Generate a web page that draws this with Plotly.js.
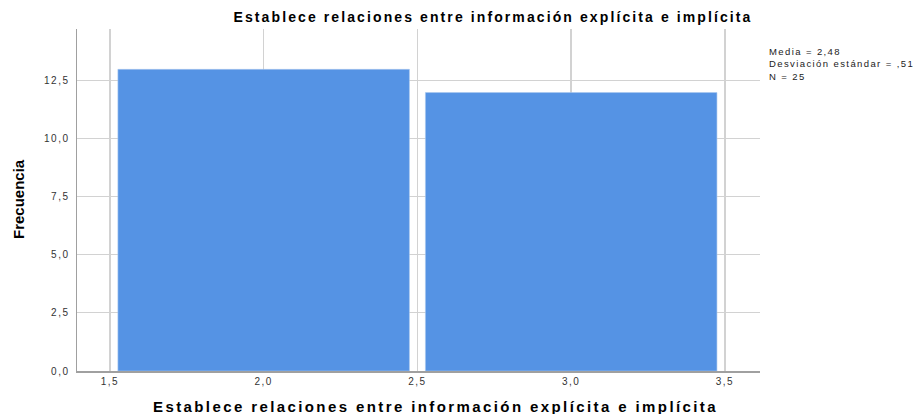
<!DOCTYPE html>
<html><head><meta charset="utf-8">
<script src="https://cdn.plot.ly/plotly-3.0.1.min.js"></script>
<style>
html,body{margin:0;padding:0;background:#fff}
.xtick text, .ytick text {letter-spacing: 1.5px;}
</style>
</head><body>
<div id="chart" style="width:920px;height:414px"></div>
<script>
const binCenters = [2, 3];
const frequencies = [13, 12];
const xTicks = [1.5, 2.0, 2.5, 3.0, 3.5];
const yTicks = [0, 2.5, 5.0, 7.5, 10.0, 12.5];
const statsLabels = ["Media = 2,48", "Desviación estándar = ,51", "N = 25"];
const chartTitle = "Establece relaciones entre información explícita e implícita";
const xTitle = "Establece relaciones entre información explícita e implícita";
const yTitle = "Frecuencia";

function spaced(t, ls) { return '<span style="letter-spacing:' + ls + 'px">' + t + '</span>'; }

const trace = {
  type: 'bar',
  x: binCenters,
  y: frequencies,
  width: 0.948,
  marker: {color: '#5593e4', line: {color: '#a9c7ef', width: 0.6}},
  hoverinfo: 'x+y'
};

const plotTop = 29, plotBottom = 371, plotH = plotBottom - plotTop;
const plotLeft = 77, plotRight = 760, plotW = plotRight - plotLeft;
function py(pix) { return (plotBottom - pix) / plotH; }
function px(pix) { return (pix - plotLeft) / plotW; }

const annotations = [];
annotations.push({
  xref: 'paper', yref: 'paper', x: px(767), y: py(44),
  xanchor: 'left', yanchor: 'top', align: 'left', showarrow: false,
  text: statsLabels.map(s => spaced(s, 1.4)).join('<br>'),
  font: {size: 9.5, color: '#222'}
});
annotations.push({
  xref: 'paper', yref: 'paper', x: px(435), y: py(406),
  xanchor: 'center', yanchor: 'middle', showarrow: false,
  text: spaced(xTitle, 2.4), font: {size: 15, weight: 'bold', color: '#000'}
});
annotations.push({
  xref: 'paper', yref: 'paper', x: px(18), y: py(199),
  xanchor: 'center', yanchor: 'middle', showarrow: false, textangle: -90,
  text: yTitle, font: {size: 15, weight: 'bold', family: 'Liberation Sans Narrow, Arial Narrow, sans-serif', color: '#000'}
});

const layout = {
  width: 920, height: 414,
  margin: {l: plotLeft, r: 920 - plotRight, t: plotTop, b: 414 - plotBottom},
  paper_bgcolor: '#ffffff', plot_bgcolor: '#ffffff',
  separators: ',.',
  font: {family: 'Liberation Sans, Arial, sans-serif', color: '#000'},
  showlegend: false,
  xaxis: {
    range: [1.393, 3.614],
    tickvals: xTicks, tickformat: '.1f',
    showgrid: true, gridcolor: '#d2d2d2', gridwidth: 1.5,
    showline: true, linecolor: '#a0a0a0', linewidth: 1.5,
    zeroline: false, ticks: '',
    tickfont: {size: 10, color: '#333'}
  },
  yaxis: {
    range: [0, 14.74],
    tickvals: yTicks, tickformat: '.1f',
    showgrid: true, gridcolor: '#d2d2d2', gridwidth: 1,
    showline: true, linecolor: '#a0a0a0', linewidth: 1.5,
    zeroline: false, ticks: '', ticklabelstandoff: 4,
    tickfont: {size: 10, color: '#333'}
  },
  title: {
    text: spaced(chartTitle, 2.1),
    font: {size: 14, weight: 'bold', color: '#000'},
    x: 493 / 920, xanchor: 'center', xref: 'container',
    y: 1 - 17 / 414, yanchor: 'middle', yref: 'container'
  },
  annotations: annotations
};

Plotly.newPlot('chart', [trace], layout, {displayModeBar: false, staticPlot: true});
</script>
</body></html>
